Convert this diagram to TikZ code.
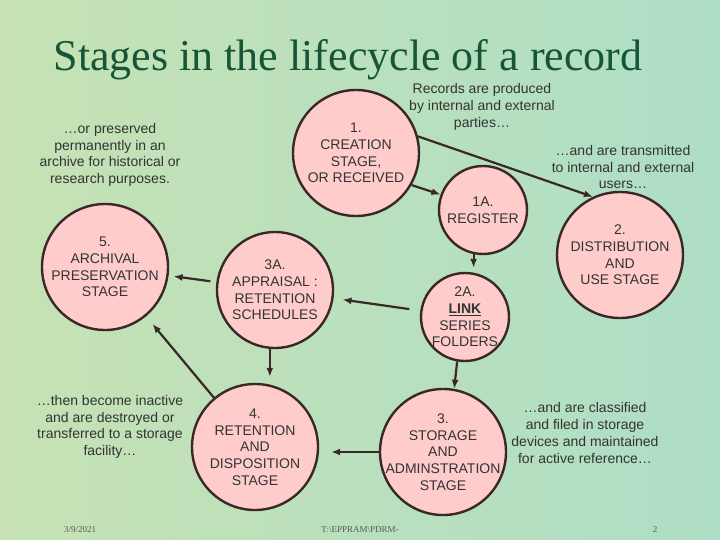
\documentclass[tikz,border=0pt]{standalone}
\usepackage{fontspec}
\setsansfont{Liberation Sans}
\newfontfamily\titlefont{Liberation Serif}
\usetikzlibrary{arrows.meta,positioning,calc}

\definecolor{stagepink}{RGB}{255,204,204}
\definecolor{stageline}{RGB}{58,40,40}
\definecolor{notegray}{RGB}{51,51,51}
\definecolor{titlegreen}{RGB}{22,86,54}
\definecolor{bgleft}{RGB}{198,226,180}
\definecolor{bgright}{RGB}{174,222,198}

\begin{document}
\begin{tikzpicture}[
    x=1pt, y=-1pt, % 以像素為單位
    font=\sffamily\fontsize{14}{16.7}\selectfont,
    >={Latex[length=9pt,width=7pt]}, % 設定箭頭樣式
    % 定義通用樣式
    stage/.style={
        circle,
        draw=stageline,
        fill=stagepink,
        line width=2.4pt,
        inner sep=0pt,
        minimum size=126pt
    },
    small stage/.style={stage, minimum size=88pt},
    stage text/.style={align=center, text=notegray, inner sep=0pt},
    note/.style={align=center, text=notegray},
    flow/.style={->, draw=stageline, line width=2.2pt},
    footer/.style={font=\titlefont\fontsize{9}{10}\selectfont, text=gray!70!black}
]
    % --- 0. Background ---
    \shade[left color=bgleft, right color=bgright] (0,0) rectangle (720,540);
    \useasboundingbox (0,0) rectangle (720,540);

    \node[font=\titlefont\fontsize{44}{50}\selectfont, text=titlegreen, anchor=base] (title) at (348,71) {Stages in the lifecycle of a record};

    % --- 1. Stages (circles) ---
    \node[stage] (crea) at (356,153) {};
    \node[stage text] at (crea) {1.\\CREATION\\STAGE,\\OR RECEIVED};

    \node[small stage] (reg) at (483,210) {};
    \node[stage text] at (reg) {1A.\\REGISTER};

    \node[stage] (dist) at (620,255) {};
    \node[stage text] at (dist) {2.\\DISTRIBUTION\\AND\\USE STAGE};

    \node[small stage] (link) at (465,317) {};
    \node[stage text] at (link) {2A.\\\underline{\textbf{LINK}}\\SERIES\\FOLDERS};

    \node[stage, minimum size=116pt] (appr) at (275,290) {};
    \node[stage text] at (appr) {3A.\\APPRAISAL :\\RETENTION\\SCHEDULES};

    \node[stage] (stor) at (443,452) {};
    \node[stage text] at (stor) {3.\\STORAGE\\AND\\ADMINSTRATION\\STAGE};

    \node[stage] (ret) at (255,447) {};
    \node[stage text] at (ret) {4.\\RETENTION\\AND\\DISPOSITION\\STAGE};

    \node[stage] (arch) at (105,267) {};
    \node[stage text] at (arch) {5.\\ARCHIVAL\\PRESERVATION\\STAGE};

    % --- 2. Notes ---
    \node[note] (prod) at (482,107) {Records are produced\\by internal and external\\parties\dots};
    \node[note] (trans) at (623,167) {\dots and are transmitted\\to internal and external\\users\dots};
    \node[note] (class) at (585,433) {\dots and are classified\\and filed in storage\\devices and maintained\\for active reference\dots};
    \node[note] (inact) at (110,427) {\dots then become inactive\\and are destroyed or\\transferred to a storage\\facility\dots};
    \node[note] (pres) at (110,155) {\dots or preserved\\permanently in an\\archive for historical or\\research purposes.};

    % --- 3. Arrows (連線) ---
    \draw[flow] (crea.15) -- (dist.115);
    \draw[flow] (crea.-30) -- (reg.160);
    \draw[flow, shorten >=4pt] (reg.-102) -- (reg.-102 |- link.north);
    \draw[flow] (link.-100) -- (stor.80);
    \draw[flow, shorten <=11pt, shorten >=9pt] (link) -- (appr);
    \draw[flow, shorten >=12pt] (stor.west) -- (stor.west -| ret.east);
    \draw[flow, shorten >=6pt] (appr.-95) -- (appr.-95 |- ret.north);
    \draw[flow, shorten >=10pt] (ret) -- (arch);
    \draw[flow, shorten <=6pt, shorten >=5pt] (appr) -- (arch);

    % --- 4. Footer ---
    \node[footer] (date) at (80,530) {3/9/2021};
    \node[footer] (path) at (360,530) {T:\textbackslash EPPRAM\textbackslash PDRM-};
    \node[footer] (page) at (655,530) {2};

\end{tikzpicture}
\end{document}
